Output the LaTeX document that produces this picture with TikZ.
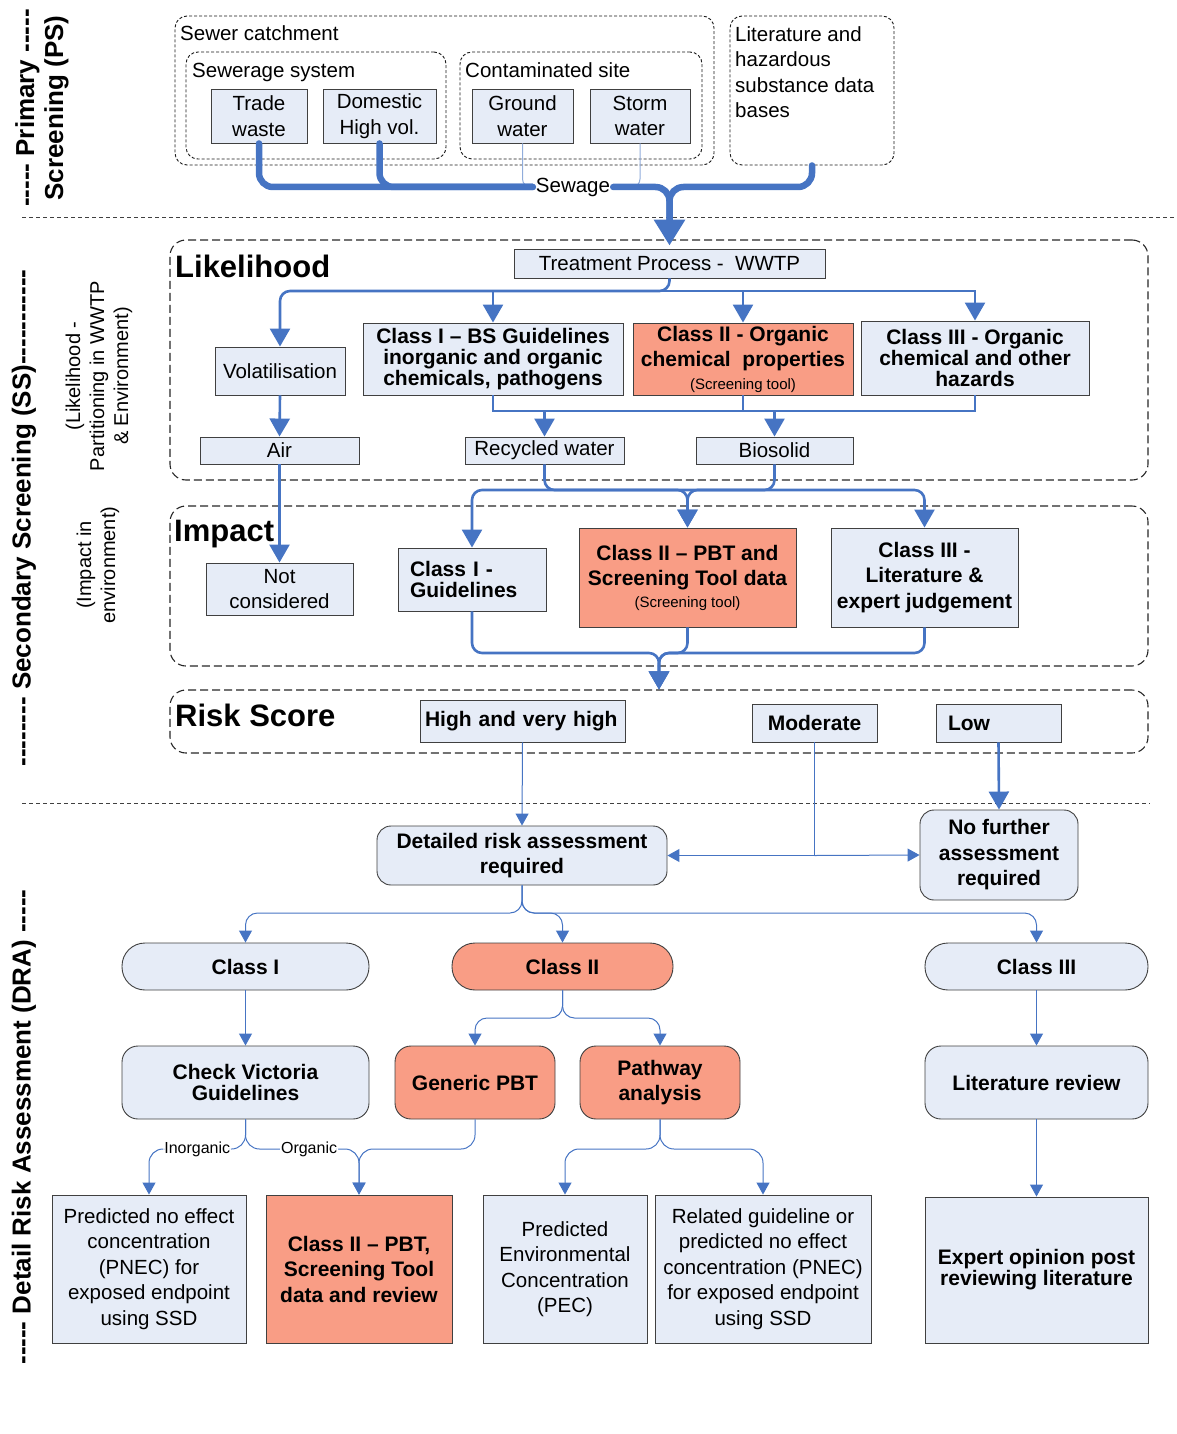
\documentclass[tikz,border=0pt]{standalone}
\usepackage{fontspec}
\setmainfont{Liberation Sans}
\usetikzlibrary{arrows.meta}
\definecolor{boxblue}{RGB}{230,236,247}
\definecolor{salmon}{RGB}{249,157,133}
\definecolor{flowblue}{RGB}{70,116,195}
\definecolor{boxedge}{RGB}{64,64,64}
\newcommand\fsreg{\fontsize{20.5}{25.5}\selectfont}
\newcommand\fsbold{\fontsize{21}{25.5}\selectfont\bfseries}
\newcommand\fstight{\fontsize{21}{21}\selectfont\bfseries}
\newcommand\fssmall{\fontsize{15}{17}\selectfont\mdseries}
\newcommand\fslabel{\fontsize{16}{18}\selectfont}
\newcommand\fshead{\fontsize{31}{35}\selectfont\bfseries}
\newcommand\fsside{\fontsize{26}{29}\selectfont\bfseries}
\newcommand\fsnote{\fontsize{20}{24}\selectfont}
\newcommand\dashrun[1]{\foreach \k in {1,...,#1}{\mbox{-}}}

\begin{document}
\begin{tikzpicture}[
		x=1pt, y=-1pt, >={Triangle[width=20pt,length=18pt]},
		box/.style={draw=boxedge, fill=boxblue, line width=0.9pt, inner sep=0pt, align=center, font=\fsreg},
		hot/.style={box, fill=salmon}, % screening-tool boxes
		pill/.style={box, font=\fsbold, rounded corners=23pt, minimum height=47pt},
		dra/.style={box, font=\fsbold, rounded corners=16pt, minimum height=73pt},
		group/.style={draw=black!90, dash pattern=on 3pt off 2pt, line width=0.9pt, rounded corners=12pt, inner sep=0pt},
		panel/.style={draw=black!85, dash pattern=on 8pt off 4pt, line width=1.1pt, rounded corners=16pt, inner sep=0pt},
		sep/.style={draw=black!75, dash pattern=on 4pt off 3pt, line width=0.9pt},
		side/.style={rotate=90, align=center, font=\fsside, inner sep=0pt},
		pipe/.style={draw=flowblue, line width=6.5pt, line cap=round, rounded corners=14pt}, % sewage main
		flow/.style={draw=flowblue, line width=2.6pt},
		wire/.style={draw=flowblue, line width=1pt},
		wtip/.style={-{Triangle[width=13pt,length=12pt]}},
	]
	\useasboundingbox (0,0) rectangle (1176,1434);

	% --- stage labels on the left
	\node[side] (pslbl) at (42,108) {\dashrun{5} Primary \dashrun{5}\\Screening (PS)};
	\node[side] (sslbl) at (24,518) {\dashrun{8} Secondary Screening (SS)\dashrun{11}};
	\node[side] (dralbl) at (24,1127) {\dashrun{5} Detail Risk Assessment (DRA) \dashrun{5}};
	\node[rotate=90, align=center, font=\fsnote] (likelynote) at (99,376) {(Likelihood -\\Partitioning in WWTP\\\& Environment)};
	\node[rotate=90, align=center, font=\fsnote] (impactnote) at (98,565) {(Impact in\\environment)};

	\draw[sep] (22,217) -- (1176,217);
	\draw[sep] (22,803) -- (1150,803);

	% --- primary screening: sources
	\node[group, minimum width=539pt, minimum height=149pt] (catch) at (444.5,90.5) {};
	\node[group, minimum width=260pt, minimum height=107pt] (sewsys) at (316,105.5) {};
	\node[group, minimum width=242pt, minimum height=107pt] (contam) at (581,105.5) {};
	\node[group, minimum width=164pt, minimum height=149pt] (lit) at (812,90.5) {};
	\node[anchor=base west, font=\fsreg, inner sep=0pt] (catchlbl) at (180,41) {Sewer catchment};
	\node[anchor=base west, font=\fsreg, inner sep=0pt] (sewsyslbl) at (192,78) {Sewerage system};
	\node[anchor=base west, font=\fsreg, inner sep=0pt] (contamlbl) at (465,78) {Contaminated site};
	\node[anchor=north west, align=left, font=\fsreg, inner sep=0pt] (littxt) at (735,26) {Literature and\\hazardous\\substance data\\bases};

	\node[box, minimum width=96pt, minimum height=54pt] (trade) at (259,116) {Trade\\waste};
	\node[box, minimum width=113pt, minimum height=54pt] (domestic) at (379.5,116) {Domestic\\High vol.};
	\node[box, minimum width=101pt, minimum height=54pt] (ground) at (522.5,116) {Ground\\water};
	\node[box, minimum width=100pt, minimum height=54pt] (storm) at (640,116) {Storm\\water};
	\node[font=\fsreg, inner sep=3pt] (sewage) at (573,187) {Sewage};

	% --- secondary screening: likelihood
	\node[panel, minimum width=978pt, minimum height=240pt] (likely) at (659,360) {};
	\node[anchor=base west, font=\fshead, inner sep=0pt] (likelylbl) at (175,277) {Likelihood};
	\node[box, minimum width=311pt, minimum height=29pt] (treat) at (669.5,263.5) {Treatment Process -\ \ WWTP};
	\node[box, minimum width=130pt, minimum height=48pt] (vol) at (280,371) {Volatilisation};
	\node[box, font=\fstight, minimum width=260pt, minimum height=72pt] (lh1) at (493,359) {Class I – BS Guidelines\\inorganic and organic\\chemicals, pathogens};
	\node[hot, font=\fsbold, minimum width=220pt, minimum height=72pt] (lh2) at (743,359) {Class II - Organic\\chemical\ \ properties\\[-3pt]{\fssmall (Screening tool)}};
	\node[box, font=\fstight, minimum width=228pt, minimum height=74pt] (lh3) at (975,358) {Class III - Organic\\chemical and other\\hazards};
	\node[box, minimum width=159pt, minimum height=27pt] (air) at (279.5,450.5) {Air};
	\node[box, minimum width=159pt, minimum height=27pt] (recyc) at (544.5,450.5) {Recycled water};
	\node[box, minimum width=157pt, minimum height=27pt] (bios) at (774.5,450.5) {Biosolid};

	% --- secondary screening: impact
	\node[panel, minimum width=978pt, minimum height=160pt] (impact) at (659,586) {};
	\node[anchor=base west, font=\fshead, inner sep=0pt] (impactlbl) at (174,541) {Impact};
	\node[box, minimum width=147pt, minimum height=52pt] (notc) at (279.5,589) {Not\\considered};
	\node[box, font=\fstight, align=left, text width=124pt, inner xsep=12pt, minimum height=63pt] (ig1) at (472,579.5) {Class I -\\Guidelines};
	\node[hot, font=\fsbold, minimum width=217pt, minimum height=99pt] (ig2) at (687.5,577.5) {Class II – PBT and\\Screening Tool data\\[-4pt]{\fssmall (Screening tool)}};
	\node[box, font=\fsbold, minimum width=187pt, minimum height=99pt] (ig3) at (924.5,577.5) {Class III -\\Literature \&\\expert judgement};

	% --- risk score
	\node[panel, minimum width=978pt, minimum height=63pt] (risk) at (659,721.5) {};
	\node[anchor=base west, font=\fshead, inner sep=0pt] (risklbl) at (175,726) {Risk Score};
	\node[box, font=\fsbold, align=left, text width=195pt, inner xsep=5pt, minimum height=42pt] (high) at (522.5,721) {High and very high};
	\node[box, font=\fsbold, minimum width=125pt, minimum height=38pt] (mod) at (814.5,723) {Moderate};
	\node[box, font=\fsbold, align=left, text width=101pt, inner xsep=12pt, minimum height=38pt] (low) at (998.5,723) {Low};

	% --- detail risk assessment
	\node[box, font=\fsbold, rounded corners=14pt, minimum width=290pt, minimum height=59pt] (detailed) at (522,855.5) {Detailed risk assessment\\required};
	\node[box, font=\fsbold, rounded corners=14pt, minimum width=158pt, minimum height=90pt] (nofurther) at (999,855) {No further\\assessment\\required};
	\node[pill, minimum width=247pt] (k1) at (245.5,966.5) {Class I};
	\node[pill, fill=salmon, minimum width=221pt] (k2) at (562.5,966.5) {Class II};
	\node[pill, minimum width=223pt] (k3) at (1036.5,966.5) {Class III};
	\node[dra, font=\fstight, minimum width=247pt] (cvg) at (245.5,1082.5) {Check Victoria\\Guidelines};
	\node[dra, fill=salmon, minimum width=160pt] (gpbt) at (475,1082.5) {Generic PBT};
	\node[dra, fill=salmon, minimum width=160pt] (pathw) at (660,1082.5) {Pathway\\analysis};
	\node[dra, minimum width=223pt] (litrev) at (1036.5,1082.5) {Literature review};
	\node[box, minimum width=194pt, minimum height=148pt] (pnec) at (149,1269) {Predicted no effect\\concentration\\(PNEC) for\\exposed endpoint\\using SSD};
	\node[hot, font=\fsbold, minimum width=186pt, minimum height=148pt] (pbt) at (359,1269) {Class II – PBT,\\Screening Tool\\data and review};
	\node[box, minimum width=164pt, minimum height=148pt] (pec) at (565,1269) {Predicted\\Environmental\\Concentration\\(PEC)};
	\node[box, minimum width=216pt, minimum height=148pt] (rel) at (763,1269) {Related guideline or\\predicted no effect\\concentration (PNEC)\\for exposed endpoint\\using SSD};
	\node[box, font=\fstight, minimum width=223pt, minimum height=146pt] (expert) at (1036.5,1270) {Expert opinion post\\reviewing literature};

	% --- sewage into the treatment plant
	\draw[wire, draw=flowblue!60, rounded corners=8pt] (ground.south) |- (sewage.west);
	\draw[wire, draw=flowblue!60, rounded corners=8pt] (storm.south) |- (sewage.east);
	\draw[pipe] (trade.south) |- (sewage.west);
	\draw[pipe] (domestic.south) |- (sewage.west);
	\draw[pipe, shorten >=28pt] (lit.south) |- (sewage.east -| treat.north) -- (treat.north);
	\draw[pipe, shorten >=3pt, -{Triangle[width=30pt,length=26pt]}] (sewage.east) -| (treat.north);

	% --- partitioning in the plant
	\coordinate (hub1) at (669.5,291);
	\draw[flow, rounded corners=10pt, ->] (treat.south) -- (hub1) -| (vol.north);
	\foreach \t in {lh1,lh2,lh3}
		\draw[flow, ->] (hub1) -| (\t.north);
	\draw[flow, ->] (vol.south) -- (air.north);
	\coordinate (hub2) at (743,411);
	\draw[flow] (lh1.south) |- (hub2) -| (lh3.south);
	\draw[flow] (lh2.south) -- (hub2);
	\foreach \t in {recyc,bios}
		\draw[flow, ->] (hub2 -| \t.north) -- (\t.north);

	% --- impact
	\draw[flow, ->] (air.south) -- (notc.north);
	\coordinate (bus3) at (687.5,490);
	\draw[flow, rounded corners=10pt, <->] (ig1.north) |- (bus3) -| (ig3.north);
	\draw[flow, rounded corners=10pt, ->] (recyc.south) |- (bus3) -- (ig2.north);
	\draw[flow, rounded corners=10pt, ->] (bios.south) |- (bus3) -- (ig2.north);
	\coordinate (bus4) at (659,653);
	\foreach \s in {ig1,ig2,ig3}
		\draw[flow, rounded corners=10pt, ->] (\s.south) |- (bus4) -- (bus4 |- risk.north);

	% --- risk score outcomes
	\draw[wire, wtip] (high.south) -- (detailed.north);
	\coordinate (modhub) at (mod.south |- detailed.east);
	\draw[wire] (mod.south) -- (modhub);
	\draw[wire, wtip] (modhub) -- (detailed.east);
	\draw[wire, wtip] (modhub) -- (nofurther.west);
	\draw[flow, ->] (low.south) -- (nofurther.north);

	% --- detail risk assessment by class
	\coordinate (bus5) at (522,913);
	\foreach \t in {k1,k2,k3}
		\draw[wire, wtip, rounded corners=12pt] (detailed.south) -- (bus5) -| (\t.north);
	\draw[wire, wtip] (k1.south) -- (cvg.north);
	\draw[wire, wtip] (k3.south) -- (litrev.north);
	\coordinate (bus9) at (562.5,1018);
	\foreach \t in {gpbt,pathw}
		\draw[wire, wtip, rounded corners=12pt] (k2.south) -- (bus9) -| (\t.north);
	\coordinate (bus6) at (245.5,1149);
	\draw[wire, wtip, rounded corners=14pt] (cvg.south) -- (bus6) -| (pnec.north)
		node[pos=0.25, fill=white, inner sep=1pt, font=\fslabel] (inorg) {Inorganic};
	\draw[wire, wtip, rounded corners=14pt] (cvg.south) -- (bus6) -| (pbt.north)
		node[pos=0.28, fill=white, inner sep=1pt, font=\fslabel] (org) {Organic};
	\draw[wire, wtip, rounded corners=14pt] (gpbt.south) |- (bus6 -| pbt.north) -- (pbt.north);
	\coordinate (bus8) at (660,1149);
	\foreach \t in {pec,rel}
		\draw[wire, wtip, rounded corners=14pt] (pathw.south) -- (bus8) -| (\t.north);
	\draw[wire, wtip] (litrev.south) -- (expert.north);
\end{tikzpicture}
\end{document}
